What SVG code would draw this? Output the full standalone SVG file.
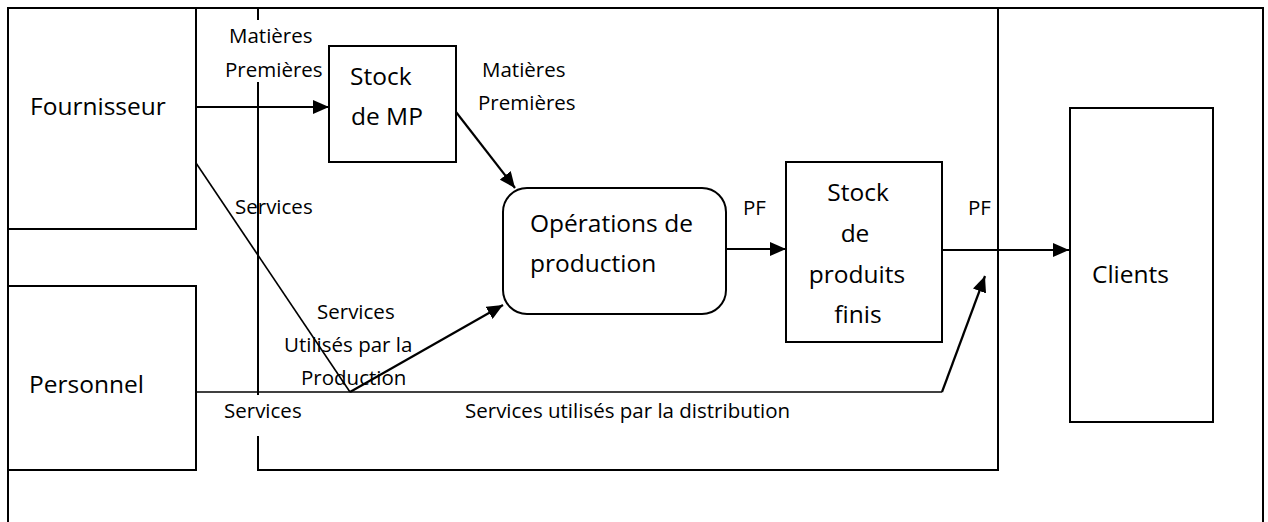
<svg xmlns="http://www.w3.org/2000/svg" width="1268" height="522" viewBox="0 0 1268 522">
  <style>
    .box { fill: #ffffff; stroke: #000000; stroke-width: 2; }
    .frame { fill: none; stroke: #000000; stroke-width: 2; }
    .mask { fill: #ffffff; stroke: none; }
    .arrow { fill: none; stroke: #000000; stroke-width: 2.2; }
    .thin { fill: none; stroke: #000000; stroke-width: 1.6; }
    .big { font-family: "Open Sans", "Liberation Sans", sans-serif; font-size: 24.5px; fill: #000000; }
    .small { font-family: "Open Sans", "Liberation Sans", sans-serif; font-size: 20.5px; fill: #000000; }
    .mid { text-anchor: middle; }
  </style>
  <defs>
    <marker id="head" markerUnits="userSpaceOnUse" markerWidth="16" markerHeight="14" refX="16" refY="7" orient="auto">
      <path d="M0,0 L16,7 L0,14 Z" fill="#000000"/>
    </marker>
  </defs>

  <rect x="0" y="0" width="1268" height="522" fill="#ffffff"/>

  <!-- outer frame (open at the bottom) -->
  <path class="frame" d="M8,530 L8,8 L1263,8 L1263,530"/>

  <!-- company boundary -->
  <path class="frame" d="M258,8 L258,470 L998,470 L998,8"/>

  <!-- label backgrounds over the boundary line -->
  <rect class="mask" x="224" y="20" width="102" height="62"/>
  <rect class="mask" x="220" y="395" width="86" height="41"/>

  <g id="connectors">
    <line class="arrow" x1="196" y1="107" x2="329" y2="107" marker-end="url(#head)"/>
    <line class="arrow" x1="456" y1="112" x2="515" y2="188" marker-end="url(#head)"/>
    <polyline class="thin" points="196,163 350,392"/>
    <line class="arrow" x1="350" y1="392" x2="503" y2="305" marker-end="url(#head)"/>
    <line class="arrow" x1="726" y1="249" x2="786" y2="249" marker-end="url(#head)"/>
    <line class="arrow" x1="942" y1="250" x2="1069" y2="250" marker-end="url(#head)"/>
    <polyline class="thin" points="196,392 942,392"/>
    <line class="arrow" x1="942" y1="392" x2="985" y2="276" marker-end="url(#head)"/>
  </g>

  <g id="fournisseur">
    <rect class="box" x="8" y="8" width="188" height="221"/>
    <text class="big" x="30" y="115">Fournisseur</text>
  </g>

  <g id="personnel">
    <rect class="box" x="8" y="286" width="188" height="184"/>
    <text class="big" x="29" y="393">Personnel</text>
  </g>

  <g id="stock-mp">
    <rect class="box" x="329" y="46" width="127" height="116"/>
    <text class="big" x="350" y="85">Stock</text>
    <text class="big" x="351" y="125">de MP</text>
  </g>

  <g id="operations">
    <rect class="box" x="503" y="188" width="223" height="126" rx="24" ry="24"/>
    <text class="big" x="530" y="232">Opérations de</text>
    <text class="big" x="530" y="272">production</text>
  </g>

  <g id="stock-pf">
    <rect class="box" x="786" y="162" width="156" height="180"/>
    <text class="big mid" x="858" y="201">Stock</text>
    <text class="big mid" x="855" y="242">de</text>
    <text class="big mid" x="857" y="283">produits</text>
    <text class="big mid" x="858" y="323">finis</text>
  </g>

  <g id="clients">
    <rect class="box" x="1070" y="108" width="143" height="314"/>
    <text class="big" x="1092" y="283">Clients</text>
  </g>

  <g id="labels">
    <text class="small" x="229" y="43">Matières</text>
    <text class="small" x="225" y="77">Premières</text>
    <text class="small" x="482" y="77">Matières</text>
    <text class="small" x="478" y="110">Premières</text>
    <text class="small" x="235" y="214">Services</text>
    <text class="small" x="317" y="319">Services</text>
    <text class="small" x="284" y="352">Utilisés par la</text>
    <text class="small" x="301" y="385">Production</text>
    <text class="small" x="224" y="418">Services</text>
    <text class="small" x="465" y="418">Services utilisés par la distribution</text>
    <text class="small" x="743" y="215">PF</text>
    <text class="small" x="968" y="215">PF</text>
  </g>
</svg>
